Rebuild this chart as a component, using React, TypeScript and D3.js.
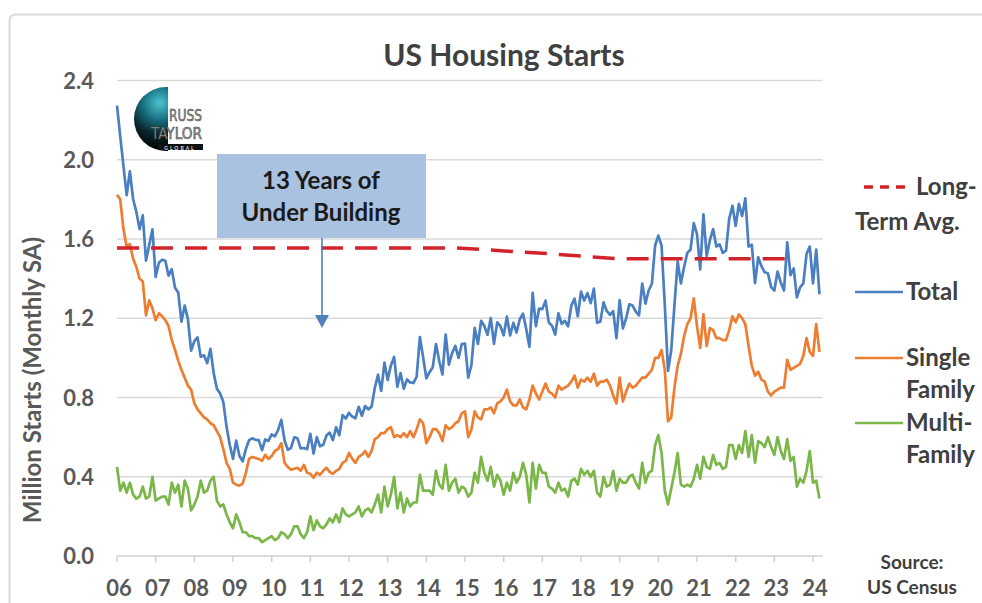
import React, { useEffect, useRef } from "react";
import * as d3 from "d3";

// monthly housing starts, Jan 2006 .. Mar 2024, thousands (SAAR)
const START_YEAR = 2006;

const totalStarts = [
  2273, 2119, 1969, 1821, 1942, 1802, 1737, 1650, 1720, 1491, 1570, 1649,
  1409, 1480, 1495, 1490, 1415, 1448, 1354, 1330, 1183, 1264, 1197, 1037,
  1084, 1103, 1005, 1013, 973, 1046, 923, 844, 820, 777, 652, 560,
  490, 582, 505, 478, 540, 585, 594, 586, 585, 534, 588, 581,
  614, 604, 636, 687, 583, 536, 546, 599, 594, 543, 545, 539,
  617, 517, 600, 554, 561, 608, 623, 585, 650, 610, 711, 694,
  723, 704, 695, 753, 708, 757, 740, 754, 847, 915, 833, 976,
  888, 962, 1005, 854, 923, 844, 891, 876, 873, 905, 1105, 1003,
  897, 928, 953, 1070, 984, 916, 1117, 966, 1024, 1061, 1000, 1070,
  1072, 900, 964, 1152, 1070, 1187, 1161, 1117, 1201, 1071, 1179, 1160,
  1114, 1208, 1113, 1177, 1128, 1195, 1223, 1146, 1055, 1328, 1160, 1249,
  1246, 1289, 1179, 1162, 1118, 1225, 1172, 1187, 1159, 1264, 1299, 1210,
  1334, 1290, 1327, 1276, 1350, 1177, 1184, 1280, 1237, 1217, 1236, 1100,
  1291, 1149, 1199, 1270, 1264, 1234, 1215, 1375, 1274, 1340, 1374, 1567,
  1617, 1567, 1269, 934, 1038, 1265, 1487, 1376, 1459, 1530, 1547, 1680,
  1625, 1447, 1725, 1514, 1594, 1650, 1562, 1573, 1530, 1542, 1703, 1768,
  1666, 1777, 1716, 1805, 1562, 1571, 1377, 1508, 1463, 1432, 1427, 1357,
  1340, 1436, 1380, 1340, 1583, 1418, 1451, 1305, 1356, 1376, 1525, 1562,
  1376, 1546, 1321,
];

const singleFamily = [
  1823, 1800, 1650, 1560, 1575, 1500, 1460, 1400, 1385, 1215, 1290, 1250,
  1190, 1225, 1210, 1190, 1160, 1090, 1040, 985, 940, 900, 860, 840,
  770, 740, 720, 700, 690, 670, 660, 630, 600, 540, 470, 440,
  370, 360, 355, 365, 420, 490, 500, 495, 490, 480, 510, 490,
  505, 530, 540, 570, 470, 450, 435, 440, 445, 430, 460, 420,
  415, 395, 420, 410, 430, 445, 425, 415, 430, 440, 470, 480,
  520, 490, 470, 500, 510, 530, 500, 530, 590, 600, 620, 620,
  640, 650, 600, 610, 600, 620, 600, 630, 600, 640, 690, 670,
  570, 600, 640, 640, 620, 580, 660, 640, 650, 670, 680, 720,
  730, 600, 640, 730, 700, 690, 740, 740, 750, 720, 770, 780,
  800, 840, 780, 760, 760, 790, 750, 740, 790, 860, 820, 790,
  830, 870, 830, 820, 800, 860, 840, 850, 860, 880, 910, 850,
  890, 880, 900, 880, 920, 860, 880, 880, 890, 860, 810, 770,
  900, 780, 830, 870, 850, 860, 880, 900, 900, 920, 940, 1000,
  1000, 1040, 940, 680, 700, 850, 960, 1020, 1110, 1170, 1200, 1300,
  1160, 1050, 1220, 1060, 1150, 1140, 1100, 1100, 1090, 1090, 1140, 1210,
  1180, 1220, 1200, 1170, 1060, 960, 910, 930, 890, 880, 830, 810,
  830, 840, 850, 850, 990, 940, 950, 960, 970, 1010, 1100, 1030,
  1010, 1170, 1030,
];

const multiFamily = [
  450, 330, 370, 320, 370, 310, 290, 300, 350, 290, 300, 400,
  280, 290, 300, 300, 260, 370, 320, 360, 250, 380, 340, 230,
  260, 300, 380, 320, 330, 380, 400, 280, 250, 260, 210, 170,
  140, 210, 170, 120, 120, 100, 100, 90, 90, 70, 80, 90,
  100, 80, 90, 120, 110, 90, 110, 150, 150, 110, 90, 120,
  200, 130, 180, 150, 140, 160, 190, 170, 210, 170, 240, 210,
  200, 210, 220, 250, 200, 230, 240, 220, 260, 310, 220, 350,
  250, 310, 400, 240, 320, 220, 290, 250, 270, 270, 410, 330,
  330, 330, 310, 430, 360, 340, 460, 330, 370, 390, 320, 350,
  340, 300, 320, 420, 370, 500, 420, 380, 450, 350, 410, 380,
  310, 370, 330, 420, 370, 400, 470, 410, 270, 470, 340, 460,
  420, 420, 350, 340, 320, 370, 330, 340, 300, 380, 390, 360,
  440, 410, 430, 400, 430, 320, 300, 400, 350, 360, 430, 330,
  390, 370, 370, 400, 410, 370, 340, 470, 370, 420, 430, 560,
  610, 520, 330, 260, 340, 420, 520, 360, 350, 360, 350, 390,
  460, 390, 500, 450, 440, 510, 460, 470, 440, 450, 560, 560,
  490, 560, 520, 630, 500, 610, 470, 580, 570, 550, 600, 550,
  510, 600, 530, 490, 590, 480, 500, 350, 390, 370, 430, 530,
  370, 380, 290,
];

// long-term average (millions)
const avgYears = [2006, 2014.75, 2016, 2017.25, 2018.25, 2019, 2023.5];
const avgValues = [1.555, 1.555, 1.54, 1.525, 1.51, 1.5, 1.5];

const yearTicks = d3.range(2006, 2025);
const yearLabels = yearTicks.map((y) => String(y).slice(2));
const yTicks = [0, 0.4, 0.8, 1.2, 1.6, 2.0, 2.4];

const FONT = "Lato, 'Open Sans', sans-serif";

export default function App() {
  const ref = useRef<SVGSVGElement>(null);

  useEffect(() => {
    const svg = d3.select(ref.current);
    svg.selectAll("*").remove();

    const x = d3.scaleLinear().domain([2006, 2024]).range([117, 813]);
    const y = d3.scaleLinear().domain([0, 2.4]).range([556, 80.5]);
    const xEnd = x(2024.25);

    // outer frame
    svg.append("rect")
      .attr("x", 9.5).attr("y", 14.5)
      .attr("width", 1000).attr("height", 700)
      .attr("rx", 6)
      .attr("fill", "white")
      .attr("stroke", "#d9d9d9")
      .attr("stroke-width", 2);

    // gridlines
    svg.append("g")
      .selectAll("line")
      .data(yTicks.filter((d) => d > 0))
      .join("line")
      .attr("x1", x(2006)).attr("x2", xEnd)
      .attr("y1", (d) => y(d)).attr("y2", (d) => y(d))
      .attr("stroke", "#d9d9d9")
      .attr("stroke-width", 1.5);

    // x axis line + ticks
    svg.append("line")
      .attr("x1", x(2006)).attr("x2", xEnd)
      .attr("y1", y(0)).attr("y2", y(0))
      .attr("stroke", "#d0d0d0").attr("stroke-width", 1.5);
    svg.append("g")
      .selectAll("line")
      .data(yearTicks)
      .join("line")
      .attr("x1", (d) => x(d)).attr("x2", (d) => x(d))
      .attr("y1", y(0)).attr("y2", y(0) + 6)
      .attr("stroke", "#d0d0d0").attr("stroke-width", 1.5);

    // y tick labels
    svg.append("g")
      .selectAll("text")
      .data(yTicks)
      .join("text")
      .attr("x", 94)
      .attr("y", (d) => y(d) + 8)
      .attr("text-anchor", "end")
      .attr("font-family", FONT)
      .attr("font-size", 22)
      .attr("font-weight", 700)
      .attr("fill", "#595959")
      .text((d) => d.toFixed(1));

    // x tick labels
    svg.append("g")
      .selectAll("text")
      .data(yearTicks)
      .join("text")
      .attr("x", (d) => x(d) + 2)
      .attr("y", 596)
      .attr("text-anchor", "middle")
      .attr("font-family", FONT)
      .attr("font-size", 22)
      .attr("font-weight", 700)
      .attr("fill", "#595959")
      .text((d, i) => yearLabels[i]);

    // y axis title
    svg.append("text")
      .attr("transform", "translate(41,380) rotate(-90)")
      .attr("text-anchor", "middle")
      .attr("font-family", FONT)
      .attr("font-size", 24)
      .attr("font-weight", 700)
      .attr("fill", "#595959")
      .text("Million Starts (Monthly SA)");

    // chart title
    svg.append("text")
      .attr("x", 504).attr("y", 66)
      .attr("text-anchor", "middle")
      .attr("font-family", FONT)
      .attr("font-size", 30)
      .attr("font-weight", 700)
      .attr("fill", "#404040")
      .text("US Housing Starts");

    // logo
    const defs = svg.append("defs");
    const grad = defs.append("radialGradient")
      .attr("id", "globe").attr("cx", "40%").attr("cy", "25%").attr("r", "75%");
    grad.append("stop").attr("offset", "0%").attr("stop-color", "#4cc3d2");
    grad.append("stop").attr("offset", "35%").attr("stop-color", "#17707f");
    grad.append("stop").attr("offset", "65%").attr("stop-color", "#0a262d");
    grad.append("stop").attr("offset", "100%").attr("stop-color", "#000");
    defs.append("clipPath").attr("id", "globeClip")
      .append("rect").attr("x", 120).attr("y", 80).attr("width", 48).attr("height", 80);
    svg.append("circle")
      .attr("cx", 166).attr("cy", 119).attr("r", 32)
      .attr("fill", "url(#globe)")
      .attr("clip-path", "url(#globeClip)");
    const logoText = [
      { t: "RUSS", y: 121, x: 169, w: 33 },
      { t: "TAYLOR", y: 139, x: 151, w: 51 },
    ];
    svg.append("g")
      .selectAll("text")
      .data(logoText)
      .join("text")
      .attr("x", (d) => d.x).attr("y", (d) => d.y)
      .attr("textLength", (d) => d.w)
      .attr("lengthAdjust", "spacingAndGlyphs")
      .attr("font-family", "'Liberation Sans Narrow', 'DejaVu Sans Condensed', sans-serif")
      .attr("font-size", 15)
      .attr("fill", "#9a9a9a")
      .attr("stroke", "#3a3a3a").attr("stroke-width", 0.5)
      .text((d) => d.t);
    svg.append("rect")
      .attr("x", 158).attr("y", 144).attr("width", 45).attr("height", 6)
      .attr("fill", "#111");
    svg.append("text")
      .attr("x", 180).attr("y", 149.5)
      .attr("text-anchor", "middle")
      .attr("font-family", FONT).attr("font-size", 5).attr("font-weight", 700)
      .attr("letter-spacing", 2)
      .attr("fill", "#ddd")
      .text("GLOBAL");

    // series
    const line = d3.line<number>()
      .x((d, i) => x(START_YEAR + i / 12))
      .y((d) => y(d / 1000));

    const series = [
      { data: multiFamily, color: "#7ab648" },
      { data: singleFamily, color: "#ed7d31" },
      { data: totalStarts, color: "#4a7fc1" },
    ];
    svg.append("g")
      .selectAll("path")
      .data(series)
      .join("path")
      .attr("d", (d) => line(d.data))
      .attr("fill", "none")
      .attr("stroke", (d) => d.color)
      .attr("stroke-width", 2.7)
      .attr("stroke-linejoin", "round");

    // long-term average
    const avgLine = d3.line<number>()
      .x((d, i) => x(avgYears[i]))
      .y((d) => y(d));
    svg.append("path")
      .attr("d", avgLine(avgValues))
      .attr("fill", "none")
      .attr("stroke", "#d2232a")
      .attr("stroke-width", 3.5)
      .attr("stroke-dasharray", "22 12");

    // annotation box
    svg.append("rect")
      .attr("x", 217).attr("y", 154)
      .attr("width", 209).attr("height", 84)
      .attr("fill", "#a8c2e0");
    svg.append("g")
      .selectAll("text")
      .data(["13 Years of", "Under Building"])
      .join("text")
      .attr("x", 321)
      .attr("y", (d, i) => 189 + i * 32)
      .attr("text-anchor", "middle")
      .attr("font-family", FONT)
      .attr("font-size", 24)
      .attr("font-weight", 700)
      .attr("fill", "#1a1a1a")
      .text((d) => d);
    svg.append("line")
      .attr("x1", 322).attr("x2", 322)
      .attr("y1", 238).attr("y2", 318)
      .attr("stroke", "#4f81bd").attr("stroke-width", 1.6);
    svg.append("path")
      .attr("d", "M315,315 L329,315 L322,328 Z")
      .attr("fill", "#4f81bd");

    // legend
    const legendFont = (sel: any) =>
      sel.attr("font-family", FONT)
        .attr("font-size", 24)
        .attr("font-weight", 700)
        .attr("fill", "#404040");

    svg.append("line")
      .attr("x1", 864).attr("x2", 910)
      .attr("y1", 187).attr("y2", 187)
      .attr("stroke", "#d2232a").attr("stroke-width", 3.5)
      .attr("stroke-dasharray", "9 7");
    legendFont(svg.append("text").attr("x", 916).attr("y", 195).text("Long-"));
    legendFont(svg.append("text").attr("x", 855).attr("y", 230).text("Term Avg."));

    const legendItems = [
      { color: "#4a7fc1", y: 292, lines: ["Total"] },
      { color: "#ed7d31", y: 358, lines: ["Single", "Family"] },
      { color: "#7ab648", y: 423, lines: ["Multi-", "Family"] },
    ];
    legendItems.forEach((it) => {
      svg.append("line")
        .attr("x1", 855).attr("x2", 903)
        .attr("y1", it.y).attr("y2", it.y)
        .attr("stroke", it.color).attr("stroke-width", 2.7);
      it.lines.forEach((t, i) => {
        legendFont(svg.append("text")
          .attr("x", 906).attr("y", it.y + 8 + i * 32).text(t));
      });
    });

    // source
    svg.append("g")
      .selectAll("text")
      .data(["Source:", "US Census"])
      .join("text")
      .attr("x", 912)
      .attr("y", (d, i) => 569 + i * 25)
      .attr("text-anchor", "middle")
      .attr("font-family", FONT)
      .attr("font-size", 19)
      .attr("font-weight", 700)
      .attr("fill", "#404040")
      .text((d) => d);
  }, []);

  return (
    <div>
      <style>{`body{margin:0}`}</style>
      <svg ref={ref} width={982} height={603} style={{ display: "block" }} />
    </div>
  );
}
